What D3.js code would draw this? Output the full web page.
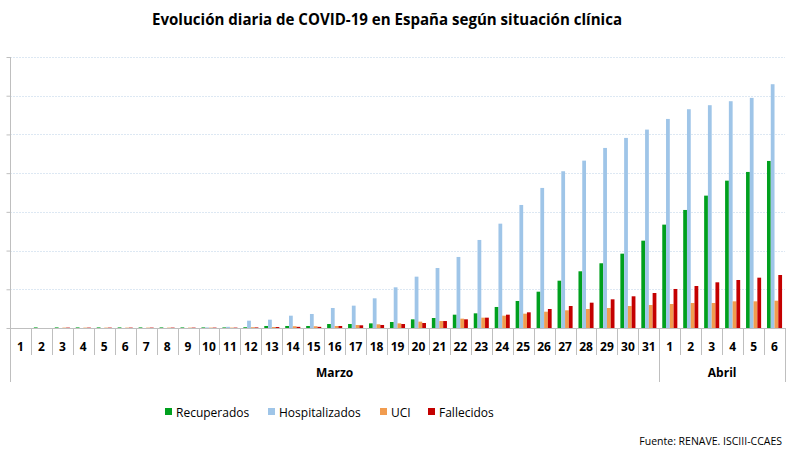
<!DOCTYPE html>
<html>
<head>
<meta charset="utf-8">
<script src="https://cdn.jsdelivr.net/npm/d3@7"></script>
<style>
  html, body { margin: 0; padding: 0; background: #fff; }
  svg { display: block; font-family: "Open Sans", "Noto Sans", sans-serif; }
</style>
</head>
<body>
<svg id="chart" width="800" height="450"></svg>
<script>
const days = ["1","2","3","4","5","6","7","8","9","10","11","12","13","14","15","16","17","18","19","20","21","22","23","24","25","26","27","28","29","30","31","1","2","3","4","5","6"];
const months = ["Marzo", "Abril"];
const monthLengths = [31, 6];
const seriesNames = ["Recuperados", "Hospitalizados", "UCI", "Fallecidos"];
const seriesColors = ["#00a01e", "#9fc5e8", "#f19c4f", "#c40000"];

const recuperados = [0,150,150,150,150,150,150,150,150,150,150,200,520,520,520,1030,1030,1200,1550,2240,2580,3440,3790,5430,6980,9380,12220,14650,16720,19200,22560,26700,30490,34190,38060,40310,43150];
const hospitalizados = [0,0,0,0,0,0,0,0,0,150,300,1890,2150,3180,3620,5170,5770,7670,10510,13260,15500,18350,22740,26950,31780,36180,40490,43230,46510,49100,51250,54000,56510,57550,58580,59440,62970];
const uci = [0,0,100,100,100,100,100,100,100,100,100,200,250,460,460,520,780,950,1200,1640,1800,2410,2670,3180,3700,4210,4570,4910,5170,5680,5940,6200,6460,6460,6890,6890,7050];
const fallecidos = [0,0,100,100,100,100,100,100,100,100,100,150,250,300,300,520,700,780,1030,1290,1800,2240,2670,3440,4050,4910,5680,6540,7410,8190,9040,10080,10850,11800,12400,13000,13690];
const yTicks = [0,10000,20000,30000,40000,50000,60000,70000];

const series = [recuperados, hospitalizados, uci, fallecidos];
const svg = d3.select("#chart");

const pLeft = 10, pRight = 785, pTop = 57, pBottom = 328;
const idx = days.map((d, i) => i);

const x0 = d3.scaleBand().domain(idx).range([pLeft, pRight]).paddingInner(0.28).paddingOuter(0.14);
const x1 = d3.scaleBand().domain(d3.range(series.length)).range([0, x0.bandwidth()]);
const y = d3.scaleLinear().domain([0, 70000]).range([pBottom, pTop]);
const step = x0.step();
const catX = i => pLeft + i * step; // category boundary

// Title
svg.append("text")
  .attr("x", 387).attr("y", 25)
  .attr("text-anchor", "middle")
  .attr("font-size", 16).attr("font-weight", "bold").attr("fill", "#000")
  .attr("textLength", 470).attr("lengthAdjust", "spacingAndGlyphs")
  .text("Evolución diaria de COVID-19 en España según situación clínica");

// Gridlines
svg.append("g").selectAll("line")
  .data(yTicks.slice(1))
  .join("line")
  .attr("x1", pLeft).attr("x2", pRight)
  .attr("y1", d => Math.round(y(d)) + 0.5).attr("y2", d => Math.round(y(d)) + 0.5)
  .attr("stroke", "#dde8f3").attr("stroke-width", 1).attr("stroke-dasharray", "2,1");

// Y axis (ticks, no labels)
const yAxis = d3.axisLeft(y).tickValues(yTicks).tickSize(4).tickFormat("");
const yg = svg.append("g").attr("transform", `translate(${pLeft + 0.5},0)`).call(yAxis);
yg.select(".domain").remove();
yg.selectAll(".tick line").attr("stroke", "#bfbfbf");
svg.append("line").attr("x1", pLeft + 0.5).attr("x2", pLeft + 0.5).attr("y1", pTop).attr("y2", 382)
  .attr("stroke", "#bfbfbf");

// Bars
const groups = svg.append("g").selectAll("g")
  .data(idx)
  .join("g")
  .attr("transform", i => `translate(${x0(i)},0)`);
groups.selectAll("rect")
  .data(i => series.map((s, k) => ({ k, v: s[i] })).filter(d => d.v > 0))
  .join("rect")
  .attr("x", d => x1(d.k))
  .attr("width", x1.bandwidth())
  .attr("y", d => y(d.v))
  .attr("height", d => y(0) - y(d.v))
  .attr("fill", d => seriesColors[d.k]);

// X axis line
svg.append("line").attr("x1", pLeft).attr("x2", pRight).attr("y1", pBottom + 0.5).attr("y2", pBottom + 0.5)
  .attr("stroke", "#bfbfbf");

// Category separators
svg.append("g").selectAll("line")
  .data(d3.range(1, days.length + 1))
  .join("line")
  .attr("x1", i => Math.round(catX(i)) + 0.5).attr("x2", i => Math.round(catX(i)) + 0.5)
  .attr("y1", pBottom).attr("y2", i => (i === monthLengths[0] || i === days.length) ? 382 : 355)
  .attr("stroke", "#bfbfbf");

// Day labels
svg.append("g").selectAll("text")
  .data(idx)
  .join("text")
  .attr("x", i => catX(i) + step / 2)
  .attr("y", 351)
  .attr("text-anchor", "middle")
  .attr("font-size", 12).attr("font-weight", "bold").attr("fill", "#000")
  .text(i => days[i]);

// Month labels
let start = 0;
months.forEach((m, k) => {
  const end = start + monthLengths[k];
  svg.append("text")
    .attr("x", (catX(start) + catX(end)) / 2)
    .attr("y", 377)
    .attr("text-anchor", "middle")
    .attr("font-size", 12).attr("font-weight", "bold").attr("fill", "#000")
    .text(m);
  start = end;
});

// Legend
const legendX = [165, 268, 380, 428];
const lg = svg.append("g").selectAll("g")
  .data(seriesNames)
  .join("g")
  .attr("transform", (d, k) => `translate(${legendX[k]},412)`);
lg.append("rect").attr("x", 0).attr("y", -4).attr("width", 7).attr("height", 7)
  .attr("fill", (d, k) => seriesColors[k]);
lg.append("text").attr("x", 11).attr("y", 4.5)
  .attr("font-size", 12).attr("fill", "#000")
  .text(d => d);

// Source
svg.append("text")
  .attr("x", 782).attr("y", 445)
  .attr("text-anchor", "end")
  .attr("font-size", 10.5).attr("fill", "#000")
  .text("Fuente: RENAVE. ISCIII-CCAES");
</script>
</body>
</html>
